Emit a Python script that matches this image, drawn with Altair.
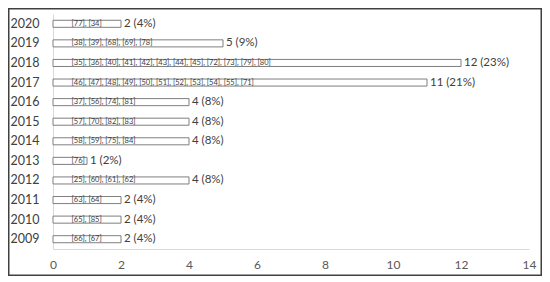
import altair as alt
import pandas as pd

years = ["2020", "2019", "2018", "2017", "2016", "2015", "2014", "2013", "2012", "2011", "2010", "2009"]
counts = [2, 5, 12, 11, 4, 4, 4, 1, 4, 2, 2, 2]
percents = [4, 9, 23, 21, 8, 8, 8, 2, 8, 4, 4, 4]
refs = [
    "[77], [34]",
    "[38], [39], [68], [69], [78]",
    "[35], [36], [40], [41], [42], [43], [44], [45], [72], [73], [79], [80]",
    "[46], [47], [48], [49], [50], [51], [52], [53], [54], [55], [71]",
    "[37], [56], [74], [81]",
    "[57], [70], [82], [83]",
    "[58], [59], [75], [84]",
    "[76]",
    "[25], [60], [61], [62]",
    "[63], [64]",
    "[65], [85]",
    "[66], [67]",
]
x_ticks = [0, 2, 4, 6, 8, 10, 12, 14]

df = pd.DataFrame({
    "Year": years,
    "Count": counts,
    "Refs": refs,
    "Label": [f"{c} ({p}%)" for c, p in zip(counts, percents)],
})

W, H = 476, 235
PL, PT, PR, PB = 45, 6, 13, 27
FONT = "Lato"

y_enc = alt.Y("Year:N", sort=years,
              scale=alt.Scale(paddingInner=0.64, paddingOuter=0.32),
              axis=alt.Axis(title=None, ticks=False, labelFontSize=12.5, labelColor="#404040",
                            labelFontWeight="normal",
                            labelPadding=14, domainColor="#d9d9d9", labelFont=FONT))
x_enc = alt.X("Count:Q", scale=alt.Scale(domain=[0, 14], nice=False),
              axis=alt.Axis(title=None, values=x_ticks, ticks=False, grid=False,
                            labelFontSize=12, labelColor="#595959", labelPadding=10,
                            labelFlush=False,
                            domainColor="#d9d9d9", labelFont=FONT))

bars = alt.Chart(df).mark_bar(fill="white", stroke="#7f7f7f", strokeWidth=1).encode(
    x=x_enc, y=y_enc)

inner = alt.Chart(df).mark_text(align="left", baseline="middle", fontSize=7.5,
                                color="#404040", font=FONT).encode(
    x=alt.value(18.5), y=alt.Y("Year:N", sort=years), text="Refs:N")

vals = alt.Chart(df).mark_text(align="left", baseline="middle", dx=3, fontSize=11.5,
                               color="#404040", font=FONT).encode(
    x="Count:Q", y=alt.Y("Year:N", sort=years), text="Label:N")

border = alt.Chart(pd.DataFrame({"a": [0]})).mark_rect(
    fill=None, stroke="#404040", strokeWidth=1.5).encode(
    x=alt.value(-PL + 0.75), x2=alt.value(W + PR - 0.75),
    y=alt.value(-PT + 0.75), y2=alt.value(H + PB - 0.75))

chart = alt.layer(bars, inner, vals, border).properties(
    width=W, height=H,
    padding={"left": PL, "top": PT, "right": PR, "bottom": PB},
    autosize=alt.AutoSizeParams(type="none"),
).configure_view(stroke=None)

chart.save("out.html", embed_options={"renderer": "svg", "actions": False})
